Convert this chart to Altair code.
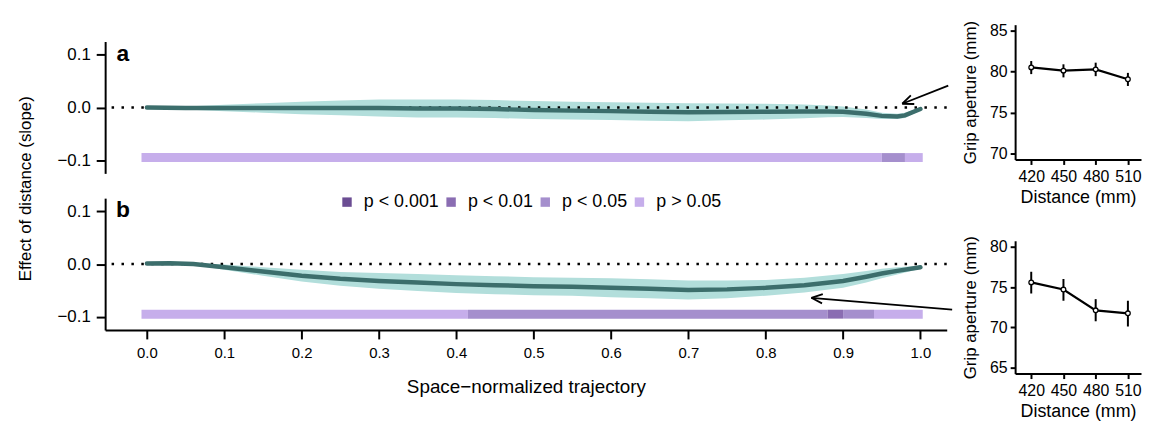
import altair as alt
import pandas as pd

FONT = "Liberation Sans"

# ---------------- data ----------------
# Panel a: effect of distance along trajectory
t_a = [0.0, 0.05, 0.1, 0.15, 0.2, 0.25, 0.3, 0.35, 0.4, 0.45, 0.5, 0.55, 0.6,
       0.65, 0.7, 0.75, 0.8, 0.85, 0.88, 0.9, 0.93, 0.95, 0.97, 0.98, 1.0]
mean_a = [0.000, -0.001, -0.001, -0.001, -0.001, -0.001, -0.001, -0.002, -0.002,
          -0.003, -0.005, -0.006, -0.007, -0.008, -0.009, -0.0085, -0.008, -0.0075,
          -0.0075, -0.008, -0.012, -0.016, -0.017, -0.015, -0.003]
upper_a = [0.001, 0.002, 0.005, 0.008, 0.011, 0.013, 0.015, 0.015, 0.015, 0.014,
           0.012, 0.011, 0.010, 0.009, 0.008, 0.0075, 0.007, 0.0055, 0.0035, 0.002,
           -0.004, -0.010, -0.012, -0.010, 0.000]
lower_a = [-0.001, -0.004, -0.007, -0.010, -0.013, -0.015, -0.017, -0.019, -0.019,
           -0.020, -0.022, -0.023, -0.024, -0.025, -0.026, -0.0245, -0.023, -0.0205,
           -0.0185, -0.018, -0.020, -0.022, -0.022, -0.020, -0.006]

# Panel b
t_b = [0.0, 0.03, 0.06, 0.1, 0.15, 0.2, 0.25, 0.3, 0.35, 0.4, 0.45, 0.5, 0.55,
       0.6, 0.65, 0.7, 0.75, 0.8, 0.85, 0.9, 0.93, 0.95, 0.97, 1.0]
mean_b = [0.001, 0.0015, 0.000, -0.006, -0.014, -0.022, -0.028, -0.032, -0.035,
          -0.038, -0.040, -0.042, -0.043, -0.045, -0.047, -0.049, -0.048, -0.045,
          -0.040, -0.032, -0.024, -0.018, -0.013, -0.006]
upper_b = [0.002, 0.0025, 0.002, -0.001, -0.006, -0.011, -0.015, -0.017, -0.019,
           -0.021, -0.023, -0.025, -0.026, -0.027, -0.029, -0.031, -0.031, -0.030,
           -0.026, -0.019, -0.013, -0.009, -0.006, -0.003]
lower_b = [0.000, 0.0005, -0.002, -0.011, -0.022, -0.033, -0.041, -0.047, -0.051,
           -0.055, -0.057, -0.059, -0.060, -0.063, -0.065, -0.067, -0.065, -0.060,
           -0.054, -0.045, -0.035, -0.027, -0.020, -0.009]

# significance strips
p_levels = ["p < 0.001", "p < 0.01", "p < 0.05", "p > 0.05"]
p_colors = ["#6b4d93", "#8a6db2", "#a58fcd", "#c6aeeb"]
seg_a_start = [-0.007, 0.95, 0.98]
seg_a_end = [0.95, 0.98, 1.003]
seg_a_p = ["p > 0.05", "p < 0.05", "p > 0.05"]
seg_b_start = [-0.007, 0.415, 0.88, 0.90, 0.94]
seg_b_end = [0.415, 0.88, 0.90, 0.94, 1.003]
seg_b_p = ["p > 0.05", "p < 0.05", "p < 0.01", "p < 0.05", "p > 0.05"]
strip_y = -0.095

# arrows (tail -> tip), in data units of the main panels
arrow_a = dict(x=[1.036], y=[0.0415], x2=[0.9765], y2=[0.007])
arrow_b = dict(x=[1.041], y=[-0.0862], x2=[0.859], y2=[-0.064])

# insets
dist = [420, 450, 480, 510]
grip_a = [80.52, 80.12, 80.28, 79.07]
grip_a_lo = [79.7, 79.3, 79.45, 78.25]
grip_a_hi = [81.3, 80.9, 81.1, 79.85]
grip_b = [75.58, 74.69, 72.11, 71.74]
grip_b_lo = [74.2, 73.3, 70.75, 70.1]
grip_b_hi = [76.9, 76.0, 73.5, 73.3]

LINE_COL = "#3c6e6c"
RIBBON_COL = "#b2dedb"

x_scale = alt.Scale(domain=[-0.054, 1.034], nice=False, zero=False, padding=0)
y_scale = alt.Scale(domain=[-0.125, 0.125], nice=False, zero=False, padding=0)
color_scale = alt.Scale(domain=p_levels, range=p_colors)

ARROW_PATH = "M0,0L-1,-0.42M0,0L-1,0.42"
MAIN_W = 849


def main_panel(t, m, lo, hi, s0, s1, sp, arrow, arrow_angle, letter, show_x, show_ytitle, show_legend):
    curve = pd.DataFrame({"t": t, "m": m, "lo": lo, "hi": hi})
    seg = pd.DataFrame({"x0": s0, "x1": s1, "p": sp, "y": [strip_y] * len(s0)})
    arr = pd.DataFrame(arrow)
    lab = pd.DataFrame({"x": [-0.031], "y": [0.1], "lab": [letter]})

    if show_x:
        x_axis = alt.Axis(values=[i / 10 for i in range(11)], format=".1f",
                          title="Space\u2212normalized trajectory", tickSize=9,
                          labelPadding=7, titlePadding=17, labelFontSize=15,
                          titleFontSize=19)
    else:
        x_axis = None
    y_axis = alt.Axis(values=[-0.1, 0.0, 0.1], format=".1f", tickSize=9, labelPadding=6,
                      labelFontSize=17,
                      title="Effect of distance (slope)" if show_ytitle else None,
                      titleX=-80, titleY=148, titleBaseline="middle", titleAlign="center")

    ribbon = alt.Chart(curve).mark_area(color=RIBBON_COL, opacity=1).encode(
        x=alt.X("t:Q", scale=x_scale, axis=x_axis),
        y=alt.Y("lo:Q", scale=y_scale, axis=y_axis),
        y2="hi:Q",
    )
    zero = alt.Chart(pd.DataFrame({"z": [0.0]})).mark_rule(
        color="black", strokeDash=[2.5, 7.5], strokeWidth=2.5
    ).encode(y=alt.Y("z:Q", scale=y_scale))
    line = alt.Chart(curve).mark_line(color=LINE_COL, strokeWidth=4.5, strokeCap="round").encode(
        x=alt.X("t:Q", scale=x_scale), y=alt.Y("m:Q", scale=y_scale)
    )
    legend = alt.Legend(
        title=None, orient="none", direction="horizontal", legendX=235, legendY=-5,
        symbolType="square", symbolSize=90, symbolStrokeWidth=0, labelFontSize=18,
        labelFont=FONT, columnPadding=3, labelOffset=8, padding=0, labelColor="black",
        values=p_levels,
    ) if show_legend else None
    strip = alt.Chart(seg).mark_bar(size=9, opacity=1).encode(
        x=alt.X("x0:Q", scale=x_scale), x2="x1:Q",
        y=alt.Y("y:Q", scale=y_scale),
        color=alt.Color("p:N", scale=color_scale, legend=legend),
    )
    arrow_line = alt.Chart(arr).mark_rule(color="black", strokeWidth=1.8).encode(
        x=alt.X("x:Q", scale=x_scale), y=alt.Y("y:Q", scale=y_scale), x2="x2:Q", y2="y2:Q"
    )
    arrow_head = alt.Chart(arr).mark_point(
        shape=ARROW_PATH, angle=arrow_angle, size=500, filled=False, stroke="black",
        strokeWidth=1.8, opacity=1
    ).encode(x=alt.X("x2:Q", scale=x_scale), y=alt.Y("y2:Q", scale=y_scale))
    letter_txt = alt.Chart(lab).mark_text(
        font=FONT, fontSize=23, fontWeight="bold", align="center", baseline="middle",
        color="black", dy=-1
    ).encode(x=alt.X("x:Q", scale=x_scale), y=alt.Y("y:Q", scale=y_scale), text="lab:N")

    return alt.layer(ribbon, zero, line, strip, arrow_line, arrow_head, letter_txt).properties(
        width=MAIN_W, height=133
    )


def inset(m, lo, hi, ydom, yvals, h):
    df = pd.DataFrame({"d": dist, "m": m, "lo": lo, "hi": hi})
    xs = alt.Scale(domain=[405, 522.2], nice=False, zero=False)
    ys = alt.Scale(domain=ydom, nice=False, zero=False)
    xa = alt.Axis(values=dist, title="Distance (mm)", tickSize=5, labelPadding=4,
                  titlePadding=4, labelFontSize=16, titleFontSize=18)
    ya = alt.Axis(values=yvals, title="Grip aperture (mm)", tickSize=5, labelPadding=3,
                  titlePadding=10, labelFontSize=16, titleFontSize=17)
    err = alt.Chart(df).mark_rule(color="black", strokeWidth=2).encode(
        x=alt.X("d:Q", scale=xs, axis=xa), y=alt.Y("lo:Q", scale=ys, axis=ya), y2="hi:Q"
    )
    ln = alt.Chart(df).mark_line(color="black", strokeWidth=2.2).encode(
        x=alt.X("d:Q", scale=xs), y=alt.Y("m:Q", scale=ys)
    )
    pt = alt.Chart(df).mark_point(filled=True, fill="white", stroke="black", strokeWidth=1.3,
                                  size=22, opacity=1).encode(
        x=alt.X("d:Q", scale=xs), y=alt.Y("m:Q", scale=ys)
    )
    return alt.layer(err, ln, pt).properties(width=127, height=h)


panel_a = main_panel(t_a, mean_a, lower_a, upper_a, seg_a_start, seg_a_end, seg_a_p,
                     arrow_a, 158.4, "a", False, True, False)
panel_b = main_panel(t_b, mean_b, lower_b, upper_b, seg_b_start, seg_b_end, seg_b_p,
                     arrow_b, 184.7, "b", True, False, True)

spacer = alt.Chart(pd.DataFrame({"v": [0]})).mark_point(opacity=0).properties(width=MAIN_W, height=17)

main_col = alt.vconcat(panel_a, panel_b, spacing=25, bounds="flush").resolve_scale(color="independent")
left = alt.vconcat(spacer, main_col, spacing=0, bounds="flush")

inset_a = inset(grip_a, grip_a_lo, grip_a_hi, [69.25, 85.75], [70, 75, 80, 85], 136)
inset_b = inset(grip_b, grip_b_lo, grip_b_hi, [64.25, 80.75], [65, 70, 75, 80], 134)
right = alt.vconcat(inset_a, inset_b, spacing=82, bounds="flush")

chart = alt.hconcat(left, right, spacing=8, bounds="full").properties(
    padding={"left": 9, "top": 10, "right": 0, "bottom": 0}
).configure_view(stroke=None).configure_axis(
    grid=False, domainColor="black", domainWidth=2, tickColor="black", tickWidth=2,
    labelColor="black", titleColor="black", labelFont=FONT, titleFont=FONT,
    labelFontSize=16, titleFontSize=17, titleFontWeight="normal"
)

chart.save("out.html", embed_options={"renderer": "svg", "actions": False})
